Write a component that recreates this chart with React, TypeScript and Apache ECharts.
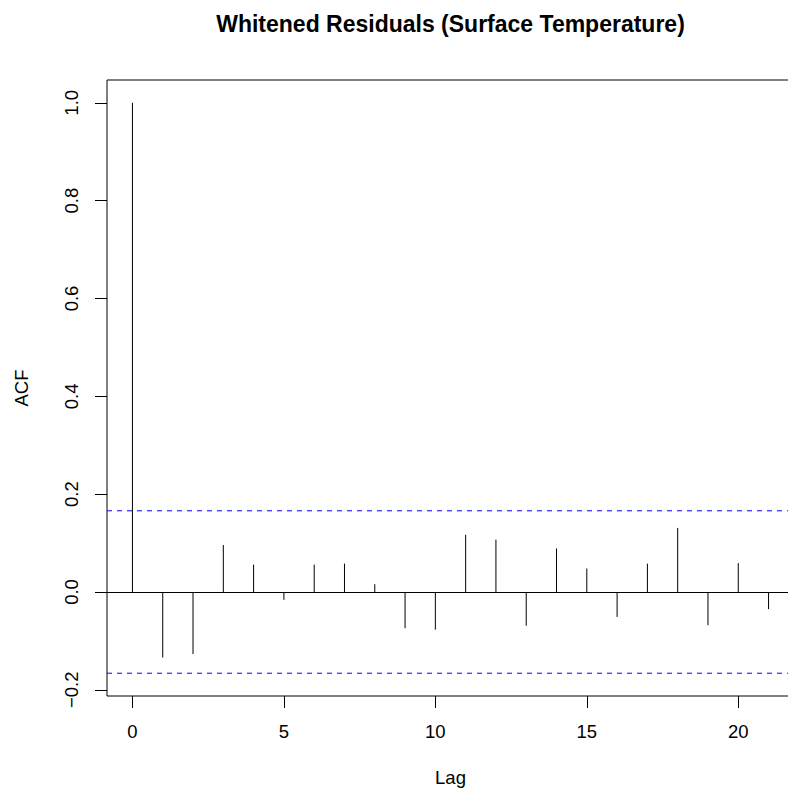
import React, { useEffect, useRef } from "react";
import * as echarts from "echarts";

const lags = [0, 1, 2, 3, 4, 5, 6, 7, 8, 9, 10, 11, 12, 13, 14, 15, 16, 17, 18, 19, 20, 21];
const acfValues = [
  1.0, -0.134, -0.127, 0.096, 0.056, -0.016, 0.056, 0.058, 0.016, -0.074, -0.077,
  0.117, 0.107, -0.069, 0.089, 0.048, -0.051, 0.058, 0.131, -0.068, 0.059, -0.035,
];
const ciBounds = [0.166, -0.166];
const xTicks = [0, 5, 10, 15, 20];
const yTicks = [-0.2, 0, 0.2, 0.4, 0.6, 0.8, 1.0];
const titleText = "Whitened Residuals (Surface Temperature)";
const xName = "Lag";
const yName = "ACF";

const FONT = "'Liberation Sans', Arial, Helvetica, sans-serif";

export default function App() {
  const ref = useRef<HTMLDivElement>(null);
  useEffect(() => {
    if (!ref.current) return;
    const chart = echarts.init(ref.current, undefined, { renderer: "svg" });
    const yMin = -0.2126;
    const yMax = 1.0466;
    const xMin = -0.84;
    const xMax = 21.84;
    chart.setOption({
      animation: false,
      backgroundColor: "#ffffff",
      textStyle: { fontFamily: FONT },
      grid: {
        left: 107,
        top: 80,
        width: 687,
        height: 616,
        show: true,
        borderColor: "#000000",
        borderWidth: 1,
        backgroundColor: "transparent",
        outerBoundsMode: "none",
        containLabel: false,
      },
      graphic: [
        {
          type: "text",
          style: {
            text: titleText,
            x: 450.5,
            y: 24,
            align: "center",
            verticalAlign: "middle",
            font: `bold 23px ${FONT}`,
            fill: "#000000",
          },
        },
      ],
      xAxis: {
        type: "value",
        min: xMin,
        max: xMax,
        name: xName,
        nameLocation: "middle",
        nameGap: 72,
        nameTextStyle: { fontSize: 18.5, color: "#000", fontFamily: FONT },
        axisLine: { show: false, onZero: false },
        splitLine: { show: false },
        axisTick: {
          show: true,
          length: 12,
          inside: false,
          customValues: xTicks,
          lineStyle: { color: "#000", width: 1 },
        },
        axisLabel: {
          show: true,
          customValues: xTicks,
          margin: 26,
          fontSize: 18.5,
          color: "#000",
          fontFamily: FONT,
        },
      },
      yAxis: {
        type: "value",
        min: yMin,
        max: yMax,
        name: yName,
        nameLocation: "middle",
        nameRotate: 90,
        nameGap: 76,
        nameTextStyle: { fontSize: 18.5, color: "#000", fontFamily: FONT },
        axisLine: { show: false, onZero: false },
        splitLine: { show: false },
        axisTick: {
          show: true,
          length: 12,
          inside: false,
          customValues: yTicks,
          lineStyle: { color: "#000", width: 1 },
        },
        axisLabel: {
          show: true,
          rotate: 90,
          customValues: yTicks,
          margin: 26,
          fontSize: 18.5,
          color: "#000",
          fontFamily: FONT,
          formatter: (v: number) => {
            const s = v.toFixed(1);
            return s.replace("-", "\u2212");
          },
        },
      },
      series: [
        {
          type: "custom",
          name: "ACF",
          data: lags.map((l, i) => [l, acfValues[i]]),
          renderItem: (params: any, api: any) => {
            const p0 = api.coord([api.value(0), 0]);
            const p1 = api.coord([api.value(0), api.value(1)]);
            return {
              type: "line",
              shape: { x1: p0[0], y1: p0[1], x2: p1[0], y2: p1[1] },
              style: { stroke: "#000000", lineWidth: 1 },
            };
          },
          markLine: {
            silent: true,
            symbol: ["none", "none"],
            label: { show: false },
            lineStyle: { color: "#000000", width: 1, type: "solid" },
            data: [{ yAxis: 0 }],
          },
          z: 3,
        },
        {
          type: "custom",
          name: "CI",
          data: ciBounds.map((v) => [0, v]),
          renderItem: (params: any, api: any) => {
            const cs = params.coordSys;
            const p = api.coord([0, api.value(1)]);
            return {
              type: "line",
              shape: { x1: cs.x, y1: p[1], x2: cs.x + cs.width, y2: p[1] },
              style: { stroke: "#0000ff", lineWidth: 1, lineDash: [5, 5], fill: null },
            };
          },
          z: 2,
        },
      ],
    });
    return () => chart.dispose();
  }, []);
  return (
    <div
      ref={ref}
      style={{ position: "absolute", left: 0, top: 0, width: 788, height: 796 }}
    />
  );
}
